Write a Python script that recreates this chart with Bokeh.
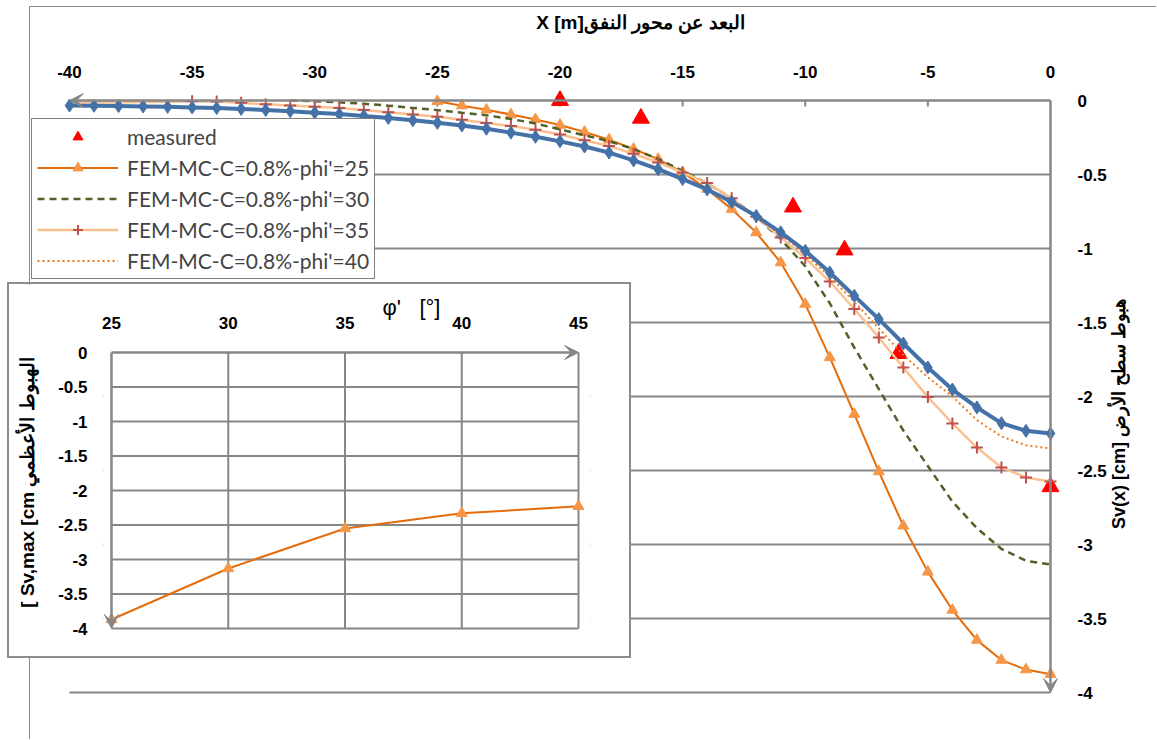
import math
from bokeh.plotting import figure
from bokeh.models import (Range1d, FixedTicker, Arrow, VeeHead, Legend, LegendItem,
                          Label, CustomJSTickFormatter)
from bokeh.embed import file_html
from bokeh.resources import INLINE

# ---------------- data ----------------
x_ticks = [-40, -35, -30, -25, -20, -15, -10, -5, 0]
y_ticks = [0, -0.5, -1, -1.5, -2, -2.5, -3, -3.5, -4]

meas_x = [-20.0, -16.7, -10.5, -8.4, -6.2, 0.0]
meas_y = [0.0, -0.12, -0.72, -1.01, -1.71, -2.61]

x_25 = list(range(-25, 1))
s_25 = [-0.005, -0.035, -0.063, -0.095, -0.128, -0.166, -0.213, -0.265, -0.328, -0.396,
        -0.486, -0.599, -0.734, -0.892, -1.095, -1.376, -1.736, -2.119, -2.507, -2.874,
        -3.185, -3.443, -3.646, -3.781, -3.845, -3.876]

x_30 = list(range(-31, 1))
s_30 = [0.0, -0.005, -0.012, -0.022, -0.035, -0.05, -0.065, -0.083, -0.10, -0.125,
        -0.155, -0.195, -0.235, -0.275, -0.328, -0.395, -0.475, -0.56, -0.66, -0.785,
        -0.935, -1.12, -1.37, -1.67, -1.95, -2.23, -2.47, -2.71, -2.89, -3.03,
        -3.11, -3.135]

x_35 = list(range(-40, 1))
s_35 = [-0.012, -0.012, -0.011, -0.010, -0.008,
        -0.005, -0.007, -0.016, -0.026, -0.034, -0.042, -0.050, -0.064, -0.080, -0.094,
        -0.110, -0.130, -0.152, -0.173, -0.198, -0.230, -0.268, -0.308, -0.360, -0.419,
        -0.486, -0.558, -0.660, -0.785, -0.925, -1.065, -1.223, -1.409, -1.601, -1.804,
        -2.004, -2.182, -2.345, -2.480, -2.547, -2.574]
marker_35_from = -35

x_40 = list(range(-40, 1))
s_40 = [-0.032, -0.034, -0.036, -0.038, -0.041, -0.045, -0.049, -0.055, -0.062, -0.070,
        -0.080, -0.090, -0.101, -0.115, -0.131, -0.148, -0.166, -0.188, -0.213, -0.241,
        -0.272, -0.307, -0.348, -0.400, -0.460, -0.527, -0.598, -0.680, -0.792, -0.905,
        -1.040, -1.190, -1.360, -1.540, -1.720, -1.870, -2.000, -2.160, -2.270, -2.330,
        -2.351]

x_45 = list(range(-40, 1))
s_45 = [-0.034, -0.036, -0.038, -0.040, -0.043, -0.047, -0.051, -0.057, -0.064, -0.072,
        -0.082, -0.092, -0.104, -0.118, -0.134, -0.151, -0.169, -0.191, -0.217, -0.245,
        -0.276, -0.311, -0.352, -0.405, -0.464, -0.531, -0.601, -0.685, -0.780, -0.891,
        -1.016, -1.162, -1.320, -1.477, -1.642, -1.804, -1.953, -2.074, -2.180, -2.232,
        -2.250]

labels = ["measured",
          "FEM-MC-C=0.8%-phi'=25",
          "FEM-MC-C=0.8%-phi'=30",
          "FEM-MC-C=0.8%-phi'=35",
          "FEM-MC-C=0.8%-phi'=40"]

phi_ticks = [25, 30, 35, 40, 45]
sv_ticks = [0, -0.5, -1, -1.5, -2, -2.5, -3, -3.5, -4]
phi_vals = [25, 30, 35, 40, 45]
svmax_vals = [-3.87, -3.13, -2.55, -2.33, -2.23]

title_top = "X [m]البعد عن محور النفق"
title_right = "Sv(x) [cm] هبوط سطح الأرض"
inset_title_x = "φ'\u00a0\u00a0\u00a0[°]"
inset_title_y = "[ Sv,max [cm الهبوط الأعظمي"

# ---------------- styling / layout ----------------
WIN_W, WIN_H = 1157, 740
GRAY = "#878787"
TICK_FONT = "Liberation Sans"
fmt = CustomJSTickFormatter(code="return String(tick)")


def style_axis(ax, ticks, standoff):
    ax.ticker = FixedTicker(ticks=ticks)
    ax.formatter = fmt
    ax.axis_line_color = None
    ax.major_tick_line_color = None
    ax.minor_tick_line_color = None
    ax.major_label_text_font = TICK_FONT
    ax.major_label_text_font_style = "bold"
    ax.major_label_text_font_size = "17px"
    ax.major_label_text_color = "black"
    ax.major_label_standoff = standoff


# ===== main chart (page pixels) =====
PX_X0, PX_X1 = 69, 1050      # x = -40 and x = 0
PX_Y0, PX_Y1 = 100, 692      # y = 0 and y = -4
x_lo, x_hi = x_ticks[0], x_ticks[-1]
y_hi, y_lo = y_ticks[0], y_ticks[-1]
KX = (PX_X1 - PX_X0) / (x_hi - x_lo)
KY = (PX_Y1 - PX_Y0) / (y_hi - y_lo)


def mx(px):
    return x_lo + (px - PX_X0) / KX


def my(py):
    return y_hi - (py - PX_Y0) / KY


OX, OY = 30, 7                 # canvas origin on the page (inside 1px border)
AFL, AFR, AFT, AFB = 30, 1064, 86, 738   # frame edges on the page
CW, CH = WIN_W - OX, WIN_H - OY

p = figure(width=CW, height=CH,
           x_range=Range1d(mx(AFL), mx(AFR)), y_range=Range1d(my(AFB), my(AFT)),
           x_axis_location="above", y_axis_location="right",
           output_backend="svg", toolbar_location=None,
           min_border_left=AFL - OX, min_border_right=OX + CW - AFR,
           min_border_top=AFT - OY, min_border_bottom=OY + CH - AFB,
           background_fill_color="white", border_fill_color="white",
           outline_line_color=None)
p.grid.visible = False
p.margin = (OY - 1, 0, 0, OX - 1)
p.styles = {"border-top": "1px solid #8c8c8c", "border-left": "1px solid #8c8c8c"}
flow_y = (OY - 1) + CH

style_axis(p.xaxis[0], x_ticks, 3)
style_axis(p.yaxis[0], y_ticks, 7)

# gridlines
gy = y_ticks[1:]
p.segment(x0=[x_lo] * len(gy), y0=gy, x1=[x_hi] * len(gy), y1=gy,
          line_color=GRAY, line_width=2)
tx = x_ticks[1:-1]
p.segment(x0=tx, y0=[y_hi] * len(tx), x1=tx, y1=[my(PX_Y0 + 6)] * len(tx),
          line_color=GRAY, line_width=2)

# axis arrows
p.add_layout(Arrow(end=VeeHead(size=14, fill_color=GRAY, line_color=GRAY),
                   x_start=x_hi, y_start=y_hi, x_end=x_lo, y_end=y_hi,
                   line_color=GRAY, line_width=2.5))
p.add_layout(Arrow(end=VeeHead(size=14, fill_color=GRAY, line_color=GRAY),
                   x_start=x_hi, y_start=y_hi, x_end=x_hi, y_end=y_lo,
                   line_color=GRAY, line_width=2.5))

# series
r_meas = p.scatter(meas_x, meas_y, marker="triangle", size=17,
                   fill_color="#FF0000", line_color="#FF0000")
l25 = p.line(x_25, s_25, line_color="#E46C0A", line_width=2)
m25 = p.scatter(x_25, s_25, marker="triangle", size=11,
                fill_color="#F79646", line_color="#F79646")
l30 = p.line(x_30, s_30, line_color="#4F6228", line_width=2.5, line_dash="7 5")
l35 = p.line(x_35, s_35, line_color="#FAC090", line_width=2.5)
mx35 = [x for x in x_35 if x >= marker_35_from]
ms35 = [s for x, s in zip(x_35, s_35) if x >= marker_35_from]
m35 = p.scatter(mx35, ms35, marker="cross", size=12, line_color="#C0504D", line_width=2)
l40 = p.line(x_40, s_40, line_color="#F07A1E", line_width=2, line_dash="2 3")
l45 = p.line(x_45, s_45, line_color="#4472A8", line_width=4)
m45 = p.scatter(x_45, s_45, marker="diamond", size=13,
                fill_color="#4472A8", line_color="#4472A8")

legend = Legend(items=[LegendItem(label=labels[0], renderers=[r_meas]),
                       LegendItem(label=labels[1], renderers=[l25, m25]),
                       LegendItem(label=labels[2], renderers=[l30]),
                       LegendItem(label=labels[3], renderers=[l35, m35]),
                       LegendItem(label=labels[4], renderers=[l40])],
                location=(31 - AFL, AFB - 279), margin=0, padding=5, spacing=6,
                glyph_height=25, label_height=25, glyph_width=81, label_standoff=9,
                label_text_font="Lato", label_text_font_size="21px",
                border_line_color="black", border_line_width=1.5,
                background_fill_color="white", background_fill_alpha=1)
p.add_layout(legend)

# ===== inset chart (page pixels) =====
IPX_X0, IPX_X1 = 111, 578     # phi = 25 and 45
IPX_Y0, IPX_Y1 = 352, 628     # sv = 0 and -4
p_lo, p_hi = phi_ticks[0], phi_ticks[-1]
v_hi, v_lo = sv_ticks[0], sv_ticks[-1]
KPX = (IPX_X1 - IPX_X0) / (p_hi - p_lo)
KPY = (IPX_Y1 - IPX_Y0) / (v_hi - v_lo)


def ix(px):
    return p_lo + (px - IPX_X0) / KPX


def iy(py):
    return v_hi - (py - IPX_Y0) / KPY


BOX_L, BOX_T, BOX_R, BOX_B, BOX_LW = 7, 282, 631, 658, 2
IOX, IOY = BOX_L + BOX_LW, BOX_T + BOX_LW
IW, IH = BOX_R - BOX_L, BOX_B - BOX_T
IFL, IFR, IFT, IFB = 103, 590, 344, 640

q = figure(width=IW, height=IH,
           x_range=Range1d(ix(IFL), ix(IFR)), y_range=Range1d(iy(IFB), iy(IFT)),
           x_axis_location="above", y_axis_location="left",
           output_backend="svg", toolbar_location=None,
           min_border_left=IFL - IOX, min_border_right=IOX + IW - IFR,
           min_border_top=IFT - IOY, min_border_bottom=IOY + IH - IFB,
           background_fill_color="white", border_fill_color="white",
           outline_line_color=None)
q.grid.visible = False
q.margin = (BOX_T - flow_y, 0, 0, BOX_L)
q.styles = {"border": f"{BOX_LW}px solid #8c8c8c"}
flow_y = BOX_B

style_axis(q.xaxis[0], phi_ticks, 10)
style_axis(q.yaxis[0], sv_ticks, 10)

vx = phi_ticks[1:]
q.segment(x0=vx, y0=[v_hi] * len(vx), x1=vx, y1=[v_lo] * len(vx),
          line_color=GRAY, line_width=2)
hy = sv_ticks[1:]
q.segment(x0=[p_lo] * len(hy), y0=hy, x1=[p_hi] * len(hy), y1=hy,
          line_color=GRAY, line_width=2)
q.add_layout(Arrow(end=VeeHead(size=14, fill_color=GRAY, line_color=GRAY),
                   x_start=p_lo, y_start=v_hi, x_end=p_hi, y_end=v_hi,
                   line_color=GRAY, line_width=2.5))
q.add_layout(Arrow(end=VeeHead(size=14, fill_color=GRAY, line_color=GRAY),
                   x_start=p_lo, y_start=v_hi, x_end=p_lo, y_end=v_lo,
                   line_color=GRAY, line_width=2.5))

q.line(phi_vals, svmax_vals, line_color="#E46C0A", line_width=2)
q.scatter(phi_vals, svmax_vals, marker="triangle", size=11,
          fill_color="#F79646", line_color="#F79646")


# ===== axis titles: small transparent text panels laid over the charts =====
def text_panel(text, cx, cy, w, h, angle, size, style, flow):
    f = figure(width=w, height=h, x_range=Range1d(0, 1), y_range=Range1d(0, 1),
               x_axis_location=None, y_axis_location=None,
               output_backend="svg", toolbar_location=None, min_border=0,
               background_fill_alpha=0, border_fill_alpha=0, outline_line_color=None)
    f.grid.visible = False
    top, left = cy - h // 2, cx - w // 2
    f.margin = (top - flow, 0, 0, left)
    f.add_layout(Label(x=0.5, y=0.5, text=text, angle=angle,
                       text_align="center", text_baseline="middle", text_font=TICK_FONT,
                       text_font_style=style, text_font_size=size, text_color="black"))
    return f, top + h


t_right, flow_y = text_panel(title_right, 1118, 413, 32, 280, math.pi / 2,
                             "18px", "bold", flow_y)
t_top, flow_y = text_panel(title_top, 640, 22, 340, 30, 0, "19px", "bold", flow_y)
t_ix, flow_y = text_panel(inset_title_x, 411, 307, 120, 34, 0, "22px", "normal", flow_y)
t_iy, flow_y = text_panel(inset_title_y, 27, 482, 32, 310, math.pi / 2,
                          "19px", "bold", flow_y)

open("out.html", "w").write(file_html([p, q, t_right, t_top, t_ix, t_iy], INLINE))
